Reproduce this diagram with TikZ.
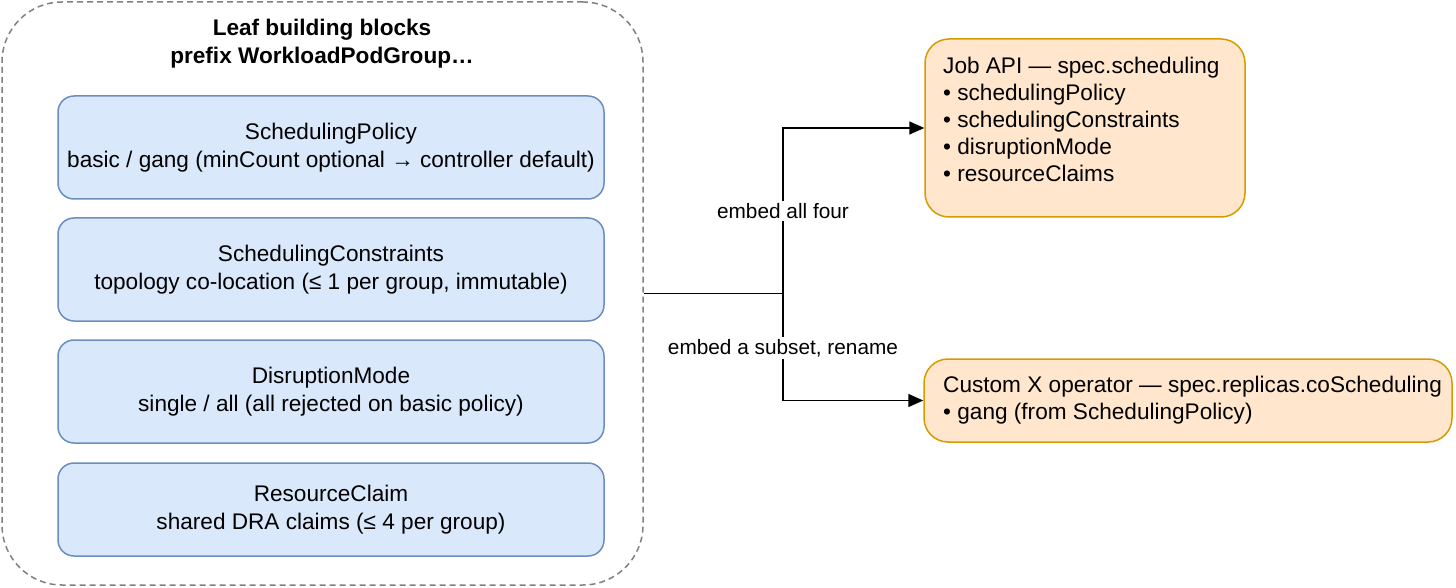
\documentclass[tikz,border=0pt]{standalone}
\usepackage{fontspec}
\setmainfont{Liberation Sans}
\usetikzlibrary{arrows.meta}
\definecolor{bluefill}{HTML}{DAE8FC}
\definecolor{bluedraw}{HTML}{6C8EBF}
\definecolor{orfill}{HTML}{FFE6CC}
\definecolor{ordraw}{HTML}{D79B00}
\definecolor{dashgray}{HTML}{808080}
\begin{document}
\begin{tikzpicture}[x=1pt,y=-1pt,
  container/.style={draw=dashgray, line width=1.5pt, dash pattern=on 6pt off 4pt, rounded corners=60pt, minimum width=641pt, minimum height=583pt, inner sep=0pt},
  leaf/.style={draw=bluedraw, fill=bluefill, line width=1.5pt, rounded corners=16pt, minimum width=546pt, inner sep=0pt, align=center, font=\fontsize{22.6}{28}\selectfont},
  target/.style={draw=ordraw, fill=orfill, line width=1.5pt, rounded corners=24pt, inner sep=0pt},
  txt/.style={font=\fontsize{22.6}{27}\selectfont, align=left, inner sep=0pt},
  conn/.style={draw=black, line width=1.5pt},
  arr/.style={conn, -{Triangle[length=15pt,width=13pt]}},
  lbl/.style={fill=white, font=\fontsize{20.8}{24}\selectfont, inner sep=2pt}
]
\useasboundingbox (0,0) rectangle (1456,588);
\node[container] (cont) at (322.5,293.5) {};
\node[font=\bfseries\fontsize{22.6}{28}\selectfont, align=center] (title) at (322,43.5) {Leaf building blocks\\prefix WorkloadPodGroup…};
\node[leaf, minimum height=103pt] (sp) at (331,147.5) {SchedulingPolicy\\basic / gang (minCount optional → controller default)};
\node[leaf, minimum height=103pt] (sc) at (331,269.5) {SchedulingConstraints\\topology co-location (≤ 1 per group, immutable)};
\node[leaf, minimum height=103pt] (dm) at (331,391.5) {DisruptionMode\\single / all (all rejected on basic policy)};
\node[leaf, minimum height=93pt] (rc) at (331,509.5) {ResourceClaim\\shared DRA claims (≤ 4 per group)};

\node[target, minimum width=320pt, minimum height=178pt] (job) at (1085,128) {};
\node[txt, anchor=west] (jobtxt) at (943,119.5) {Job API — spec.scheduling\\• schedulingPolicy\\• schedulingConstraints\\• disruptionMode\\• resourceClaims};
\node[target, minimum width=528pt, minimum height=83pt] (cx) at (1188,400.5) {};
\node[txt, anchor=west] (cxtxt) at (943,400.5) {Custom X operator — spec.replicas.coScheduling\\• gang (from SchedulingPolicy)};

\coordinate (j) at (783,293.5);
\draw[conn] (cont.east) -- (j);
\draw[arr] (j) |- (job.west);
\draw[arr] (j) |- (cx.west);
\node[lbl] (l1) at (783,211) {embed all four};
\node[lbl] (l2) at (783,348) {embed a subset, rename};
\end{tikzpicture}
\end{document}
